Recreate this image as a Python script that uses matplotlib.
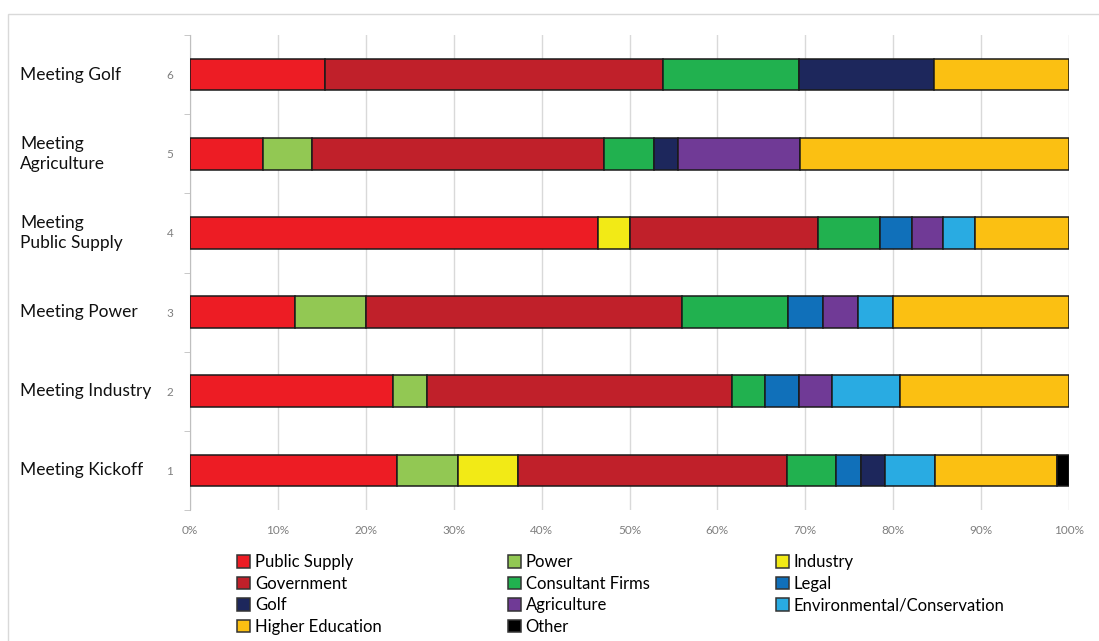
import numpy as np
import matplotlib
matplotlib.use("Agg")
import matplotlib.pyplot as plt
from matplotlib.patches import Patch, Rectangle
from matplotlib.transforms import blended_transform_factory

plt.rcParams['font.family'] = ['Lato', 'DejaVu Sans']

# Meetings from bottom (1) to top (6)
meetings = ["Meeting Kickoff", "Meeting Industry", "Meeting Power",
            "Meeting\nPublic Supply", "Meeting\nAgriculture", "Meeting Golf"]
meeting_nums = ["1", "2", "3", "4", "5", "6"]

# share of attendees (%) per group, same order as meetings
public_supply = [23.6, 23.1, 12.0, 46.4, 8.3, 15.4]
power = [6.9, 3.8, 8.0, 0, 5.6, 0]
industry = [6.9, 0, 0, 3.6, 0, 0]
government = [30.6, 34.6, 36.0, 21.4, 33.3, 38.5]
consultant = [5.6, 3.8, 12.0, 7.1, 5.6, 15.4]
legal = [2.8, 3.8, 4.0, 3.6, 0, 0]
golf = [2.8, 0, 0, 0, 2.8, 15.4]
agriculture = [0, 3.8, 4.0, 3.6, 13.9, 0]
environmental = [5.6, 7.7, 4.0, 3.6, 0, 0]
higher_ed = [13.9, 19.2, 20.0, 10.7, 30.6, 15.4]
other = [1.4, 0, 0, 0, 0, 0]

series = [
    ("Public Supply", public_supply, "#ED1C24"),
    ("Power", power, "#92C853"),
    ("Industry", industry, "#F2EA16"),
    ("Government", government, "#C0202A"),
    ("Consultant Firms", consultant, "#21B14F"),
    ("Legal", legal, "#1070BA"),
    ("Golf", golf, "#1D275C"),
    ("Agriculture", agriculture, "#703A96"),
    ("Environmental/Conservation", environmental, "#29ABE2"),
    ("Higher Education", higher_ed, "#FBC012"),
    ("Other", other, "#000000"),
]

vals = np.array([s[1] for s in series], dtype=float)
vals = vals / vals.sum(axis=0) * 100  # 100% stacked

fig = plt.figure(figsize=(10.99, 6.41), dpi=100)
ax = fig.add_axes([190/1099, 1-510/641, 879/1099, 475/641])

ypos = np.arange(1, 7)
left = np.zeros(6)
for i, (name, _, col) in enumerate(series):
    w = vals[i]
    m = w > 0
    ax.barh(ypos[m], w[m], left=left[m], height=0.4, color=col,
            edgecolor="#1a1a1a", linewidth=1.1, zorder=3)
    left += w

ax.set_xlim(0, 100)
ax.set_ylim(0.5, 6.5)
ax.set_xticks(np.arange(0, 101, 10))
ax.set_xticklabels([f"{t}%" for t in range(0, 101, 10)], color="#7f7f7f", fontsize=8.5)
ax.tick_params(axis="x", length=0, pad=11)
ax.grid(axis="x", color="#d9d9d9", linewidth=1, zorder=0)

ax.set_yticks(ypos)
ax.set_yticklabels(meeting_nums, color="#7f7f7f", fontsize=8.5)
ax.tick_params(axis="y", which="major", length=0, pad=12)
ax.set_yticks(np.arange(0.5, 6.6, 1), minor=True)
ax.tick_params(axis="y", which="minor", length=4, color="#bfbfbf")

for s in ["top", "right", "bottom"]:
    ax.spines[s].set_visible(False)
ax.spines["left"].set_color("#bfbfbf")

tr = blended_transform_factory(fig.transFigure, ax.transData)
for y, name in zip(ypos, meetings):
    ax.text(20/1099, y, name, transform=tr, ha="left", va="center",
            fontsize=12.5, color="#111111", linespacing=1.3)

# chart area border (partly visible)
fig.patches.append(Rectangle((8/1099, -0.1), 1.2, 1.1 - 14/641,
                             transform=fig.transFigure, fill=False,
                             edgecolor="#d9d9d9", linewidth=1))

# legend in row order (3 columns)
handles = [Patch(facecolor=c, edgecolor="#333333", linewidth=1.1, label=n)
           for n, _, c in series]
rows = [handles[i:i+3] for i in range(0, len(handles), 3)]
cols = [[r[j] for r in rows if j < len(r)] for j in range(3)]
order = cols[0] + cols[1] + cols[2]
fig.legend(handles=order, loc="upper left", bbox_to_anchor=(229/1099, 1-546/641),
           ncol=3, frameon=False, fontsize=12, handlelength=0.75, handleheight=0.75,
           handletextpad=0.3, columnspacing=7.6, labelspacing=0.33, borderpad=0)

fig.savefig("out.png", dpi=100)
